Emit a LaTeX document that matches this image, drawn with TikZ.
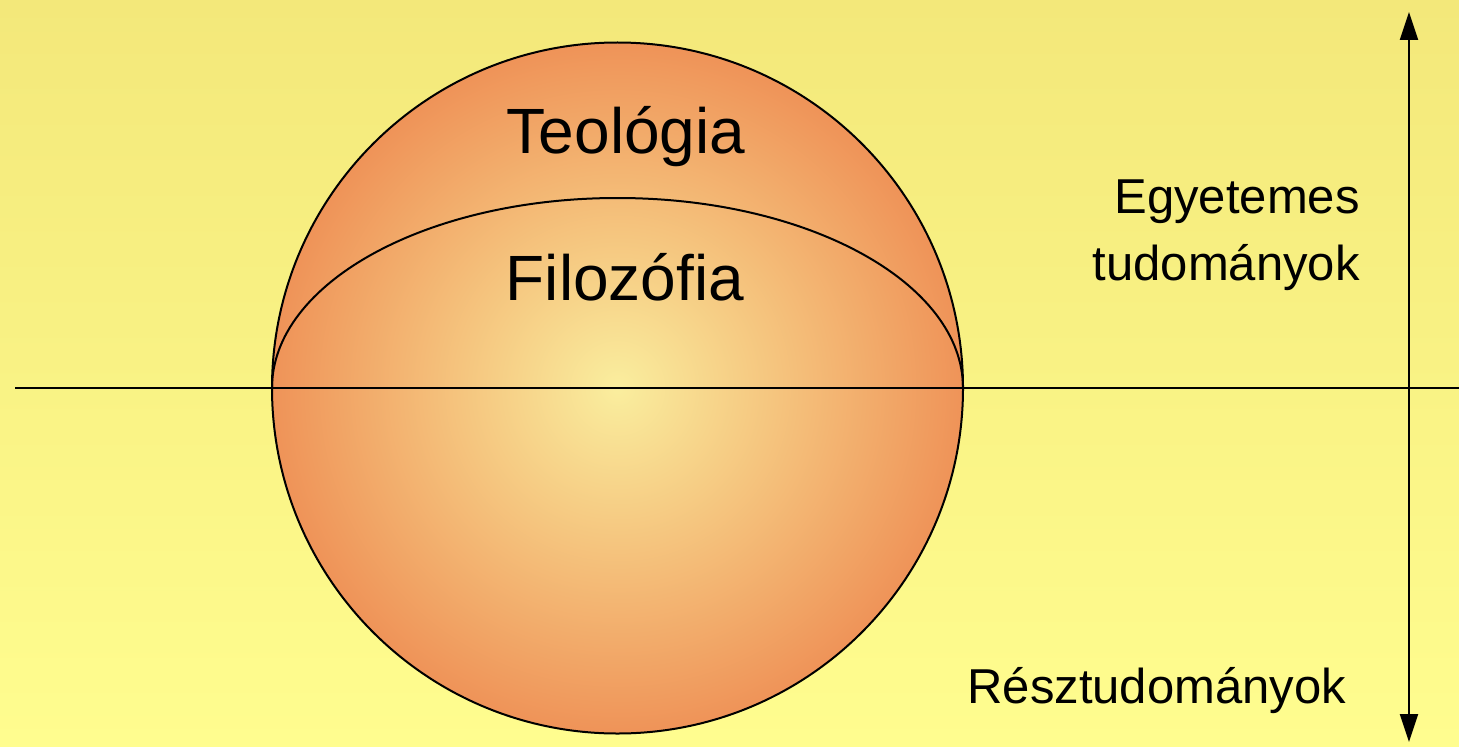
\documentclass[tikz,border=0pt]{standalone}
\usepackage{fontspec}
\setmainfont{Liberation Sans}
\usetikzlibrary{arrows.meta, positioning, shadings}
\definecolor{bgtop}{RGB}{243,232,122}
\definecolor{bgbottom}{RGB}{255,253,143}
\definecolor{sphereout}{RGB}{239,147,88}
\definecolor{spherein}{RGB}{250,238,158}

\begin{document}
\begin{tikzpicture}[x=0.5pt, y=0.5pt,
  bigtext/.style={font=\fontsize{32}{38}\selectfont, inner sep=0pt},
  sidetext/.style={font=\fontsize{24.5}{33.5}\selectfont, inner sep=0pt}]
  % Background
  \shade[top color=bgtop, middle color=bgtop, bottom color=bgbottom] (0,0) rectangle (1459,746);
  \useasboundingbox (0,0) rectangle (1459,746);

  % Sphere with the inner arc
  \coordinate (c) at (617.5,358);
  \shade[inner color=spherein, outer color=sphereout] (c) circle (345.5);
  \draw[line width=1pt] (c) circle (345.5);
  \coordinate (arcstart) at (272,358);
  \draw[line width=1pt] (arcstart) arc[start angle=180, end angle=0, x radius=345.5, y radius=190];

  % Horizontal divider
  \coordinate (west) at (15,358);
  \coordinate (east) at (1459,358);
  \draw[line width=1pt] (west) -- (east);

  % Vertical scale
  \coordinate (top) at (1409,734);
  \coordinate (bottom) at (1409,4);
  \draw[line width=1pt, {Triangle[length=14pt, width=9pt]}-{Triangle[length=14pt, width=9pt]}]
    (bottom) -- (top);

  % Labels
  \node[bigtext, anchor=base] (teologia) at (626,593) {Teológia};
  \node[bigtext, anchor=base] (filozofia) at (625,446) {Filozófia};
  \node[sidetext, anchor=base east] (egyetemes) at (1360,533) {Egyetemes};
  \node[sidetext, anchor=base east] (tudomanyok) at (1360,466) {tudományok};
  \node[sidetext, anchor=base west] (reszt) at (967,43) {Résztudományok};
\end{tikzpicture}
\end{document}
